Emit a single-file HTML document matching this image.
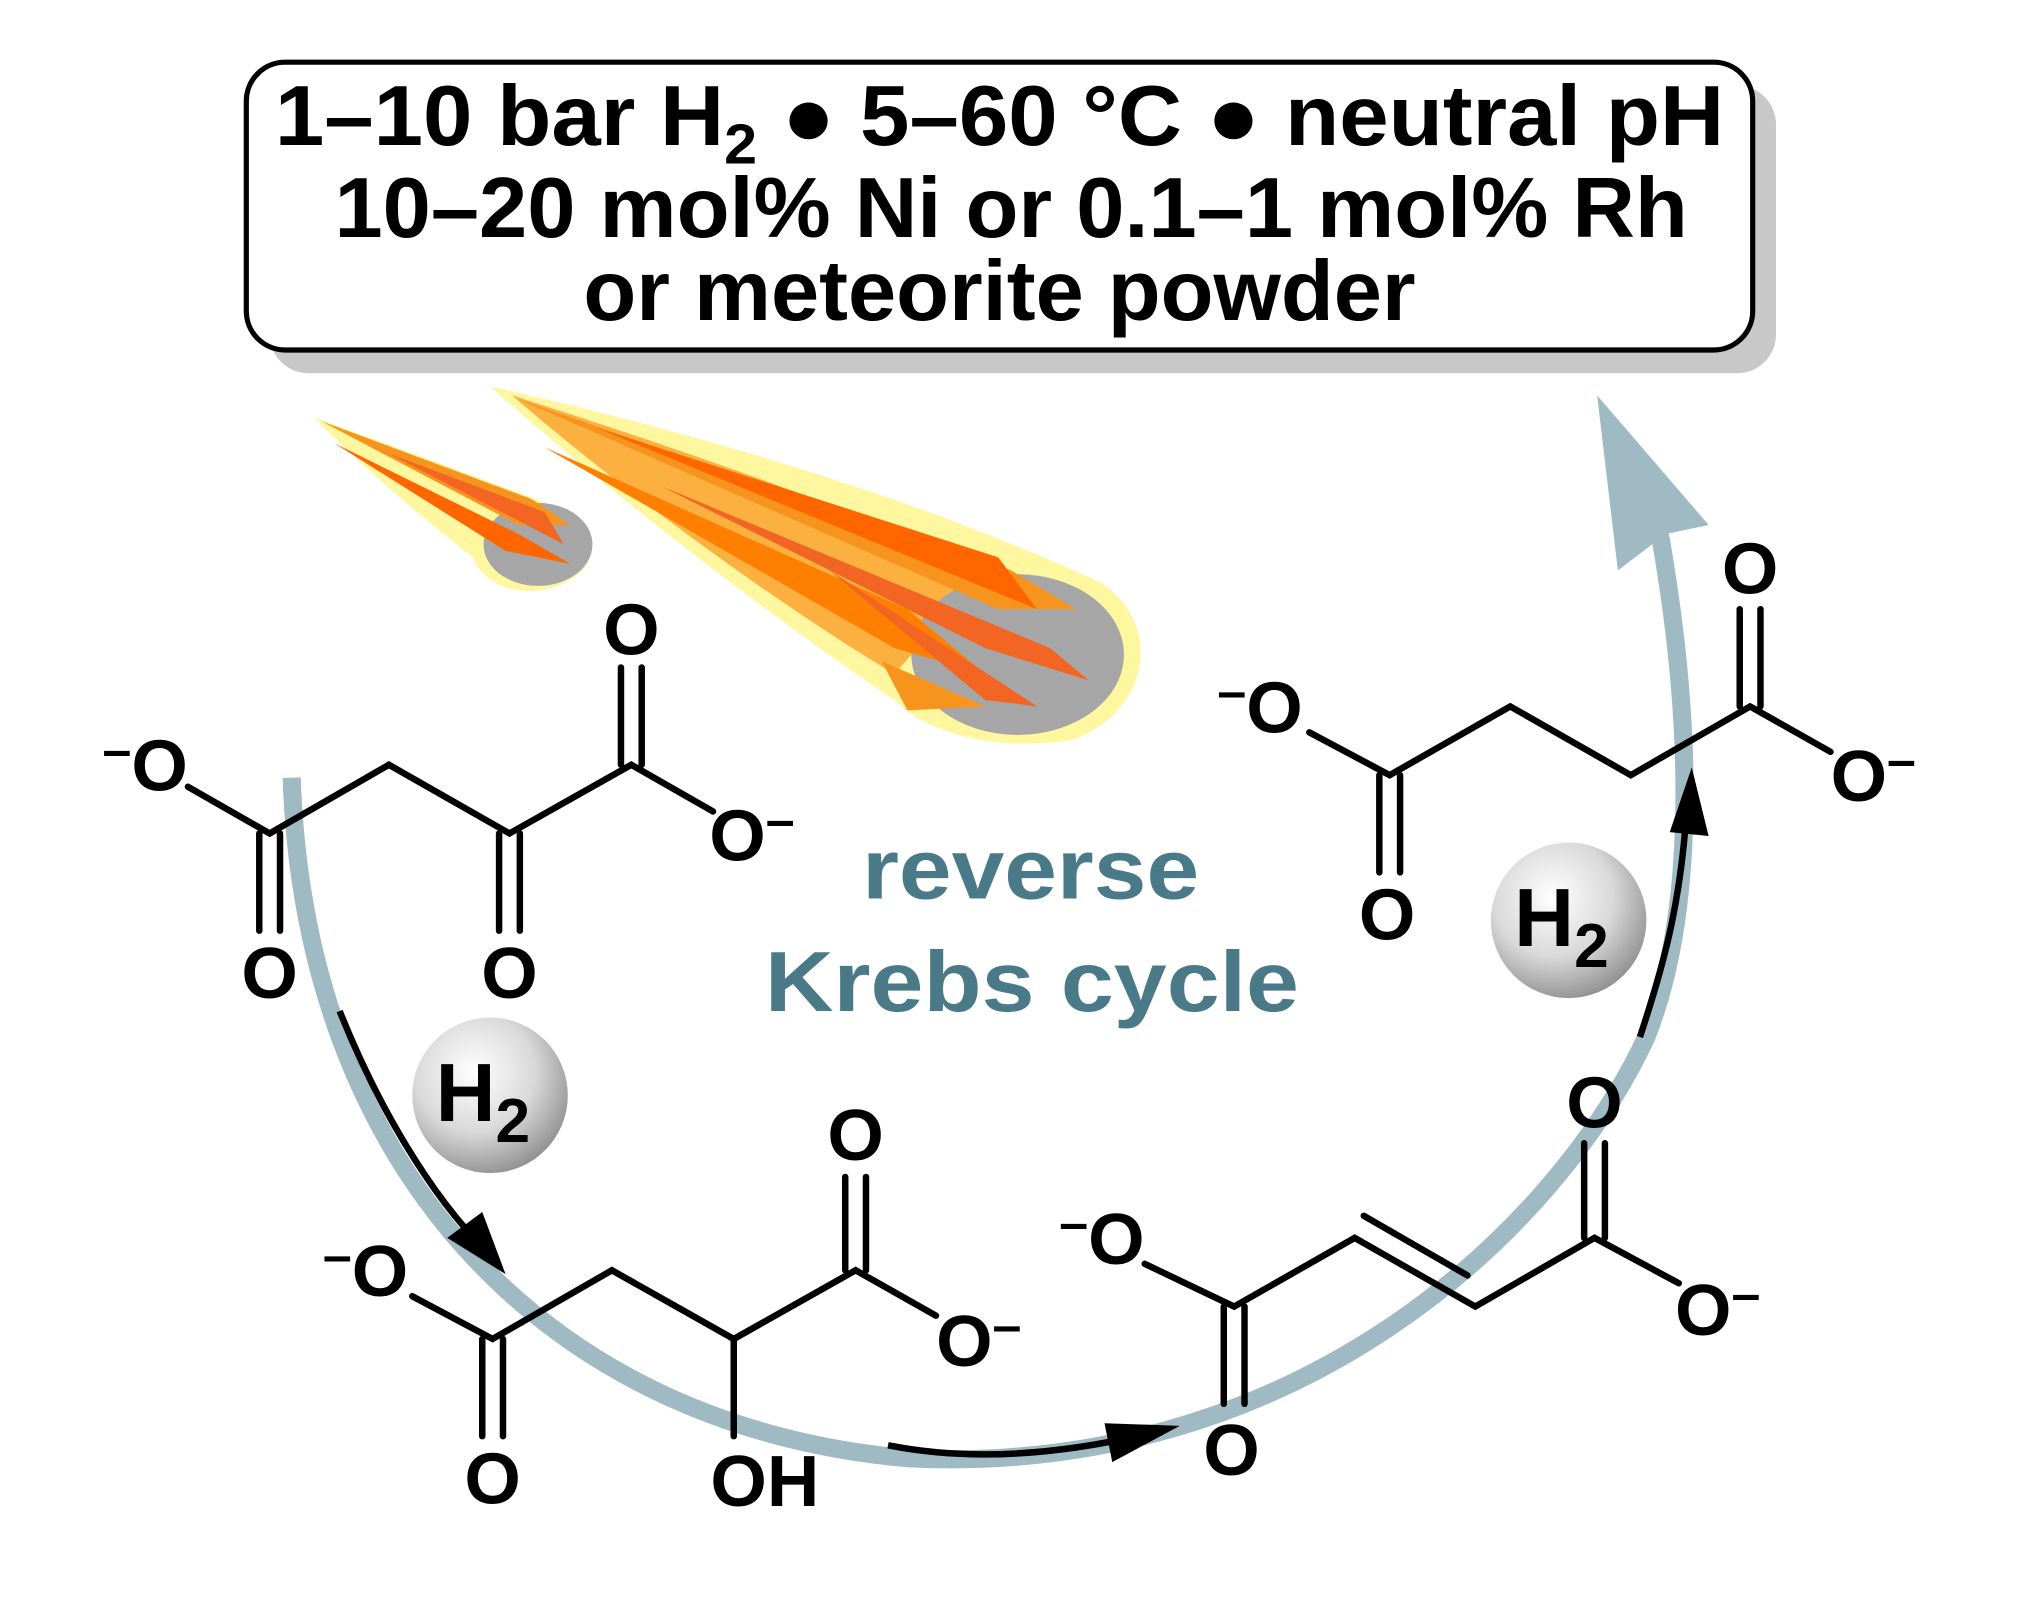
<!DOCTYPE html>
<html><head><meta charset="utf-8">
<style>
html,body{margin:0;padding:0;background:#fff;}
svg{display:block;}
text{font-family:"Liberation Sans",Arial,sans-serif;font-weight:bold;}
</style></head>
<body>
<svg width="2034" height="1606" viewBox="0 0 1569 1239" preserveAspectRatio="none" xmlns="http://www.w3.org/2000/svg">
<defs>
<radialGradient id="sph" cx="0.4" cy="0.35" r="0.7">
<stop offset="0" stop-color="#ffffff"/>
<stop offset="0.55" stop-color="#d9d9d9"/>
<stop offset="1" stop-color="#8c8c8c"/>
</radialGradient>
</defs>
<rect x="0" y="0" width="1569" height="1239" fill="#fff"/>
<!-- box -->
<rect x="208" y="66" width="1162" height="222" rx="30" fill="#c8c8c8"/>
<rect x="190" y="48" width="1162" height="222" rx="30" fill="#fff" stroke="#000" stroke-width="4"/>
<g font-size="66" fill="#000">
<text x="212" y="112" textLength="1118" lengthAdjust="spacingAndGlyphs">1–10 bar H<tspan font-size="44" dy="14">2</tspan><tspan dy="-14"> ● 5–60 °C ● neutral pH</tspan></text>
<text x="258" y="183" textLength="1044" lengthAdjust="spacingAndGlyphs">10–20 mol% Ni or 0.1–1 mol% Rh</text>
<text x="450" y="247" textLength="642" lengthAdjust="spacingAndGlyphs">or meteorite powder</text>
</g>
<!-- meteors -->
<g>
<path d="M378,298 C520,330 700,380 850,450 C895,480 890,545 830,570 C780,580 720,570 690,540 C600,480 470,380 378,298 Z" fill="#fff6a0"/>
<path d="M395,305 C520,345 680,400 760,440 L690,520 C590,460 470,370 395,305 Z" fill="#fbb040"/>
<ellipse cx="785" cy="505" rx="82" ry="62" fill="#a6a6a6"/>
<path d="M400,308 L780,440 L830,470 L770,470 Z" fill="#f7941d"/>
<path d="M420,345 L700,470 L760,520 L690,500 Z" fill="#ff7f00"/>
<path d="M510,375 L810,500 L840,525 L760,500 Z" fill="#f26522"/>
<path d="M640,440 L800,545 L760,540 Z" fill="#f26522"/>
<path d="M460,330 L770,430 L800,470 Z" fill="#ff6600"/>
<path d="M680,510 L760,545 L700,548 Z" fill="#f7941d"/>
<path d="M242,322 C320,350 400,380 440,395 C465,410 465,445 420,455 C390,460 370,445 365,430 C320,395 280,360 242,322 Z" fill="#fff6a0"/>
<ellipse cx="415" cy="420" rx="42" ry="32" fill="#a6a6a6"/>
<path d="M248,325 L410,385 L440,405 L400,405 Z" fill="#f7941d"/>
<path d="M258,342 L400,412 L440,435 L390,425 Z" fill="#ff6600"/>
<path d="M300,350 L420,395 L435,420 Z" fill="#f26522"/>
</g>
<!-- blue cycle arc -->
<path d="M225,600 C235,900 420,1100 700,1125 C1000,1140 1200,950 1270,800 C1310,700 1305,550 1280,410" fill="none" stroke="#a0bac4" stroke-width="14"/>
<polygon points="1232,305 1318,405 1285,412 1248,440" fill="#a0bac4"/>
<!-- reverse Krebs -->
<g fill="#4a7a87" font-size="66">
<text x="665" y="693" textLength="260" lengthAdjust="spacingAndGlyphs">reverse</text>
<text x="590" y="780" textLength="412" lengthAdjust="spacingAndGlyphs">Krebs cycle</text>
</g>
<!-- black arrows -->
<g fill="none" stroke="#000" stroke-width="5">
<path d="M262,780 C290,850 330,920 375,965"/>
<path d="M685,1115 C750,1128 820,1122 890,1105"/>
<path d="M1265,800 C1285,740 1298,690 1302,610"/>
</g>
<polygon points="390,983 345,955 372,935" fill="#000"/>
<polygon points="910,1100 858,1128 852,1098" fill="#000"/>
<polygon points="1305,592 1318,645 1288,642" fill="#000"/>
<!-- H2 spheres -->
<circle cx="378" cy="845" r="60" fill="url(#sph)"/>
<circle cx="1210" cy="710" r="60" fill="url(#sph)"/>
<g font-size="64" fill="#000">
<text x="336" y="865">H<tspan font-size="48" dy="16">2</tspan></text>
<text x="1168" y="730">H<tspan font-size="48" dy="16">2</tspan></text>
</g>
<!-- molecules -->
<g stroke="#000" stroke-width="5" fill="none" stroke-linecap="round">
<polyline points="145,607 208,643 300,590 393,643 487,590 550,626"/>
<line x1="200" y1="643" x2="200" y2="718"/><line x1="216" y1="643" x2="216" y2="718"/>
<line x1="385" y1="643" x2="385" y2="718"/><line x1="401" y1="643" x2="401" y2="718"/>
<line x1="479" y1="590" x2="479" y2="515"/><line x1="495" y1="590" x2="495" y2="515"/>
<polyline points="318,1000 380,1033 472,980 566,1033 660,980 722,1015"/>
<line x1="372" y1="1033" x2="372" y2="1108"/><line x1="388" y1="1033" x2="388" y2="1108"/>
<line x1="566" y1="1033" x2="566" y2="1108"/>
<line x1="652" y1="980" x2="652" y2="908"/><line x1="668" y1="980" x2="668" y2="908"/>
<polyline points="883,975 952,1008 1045,955 1138,1008 1230,955 1295,990"/>
<line x1="1052" y1="938" x2="1132" y2="984"/>
<line x1="944" y1="1008" x2="944" y2="1083"/><line x1="960" y1="1008" x2="960" y2="1083"/>
<line x1="1222" y1="955" x2="1222" y2="882"/><line x1="1238" y1="955" x2="1238" y2="882"/>
<polyline points="1010,565 1072,598 1165,545 1258,598 1350,545 1412,580"/>
<line x1="1064" y1="598" x2="1064" y2="673"/><line x1="1080" y1="598" x2="1080" y2="673"/>
<line x1="1342" y1="545" x2="1342" y2="470"/><line x1="1358" y1="545" x2="1358" y2="470"/>
</g>
<g font-size="56" fill="#000" text-anchor="middle">
<text x="112" y="610"><tspan font-size="40" dy="-18">–</tspan><tspan dy="18">O</tspan></text>
<text x="580" y="664">O<tspan font-size="40" dy="-18">–</tspan></text>
<text x="208" y="770">O</text><text x="393" y="770">O</text><text x="487" y="505">O</text>
<text x="282" y="1000"><tspan font-size="40" dy="-18">–</tspan><tspan dy="18">O</tspan></text>
<text x="755" y="1054">O<tspan font-size="40" dy="-18">–</tspan></text>
<text x="380" y="1160">O</text><text x="590" y="1162">OH</text><text x="660" y="895">O</text>
<text x="850" y="975"><tspan font-size="40" dy="-18">–</tspan><tspan dy="18">O</tspan></text>
<text x="1325" y="1030">O<tspan font-size="40" dy="-18">–</tspan></text>
<text x="950" y="1138">O</text><text x="1230" y="870">O</text>
<text x="972" y="565"><tspan font-size="40" dy="-18">–</tspan><tspan dy="18">O</tspan></text>
<text x="1445" y="618">O<tspan font-size="40" dy="-18">–</tspan></text>
<text x="1070" y="725">O</text><text x="1350" y="458">O</text>
</g>
</svg>
</body></html>
